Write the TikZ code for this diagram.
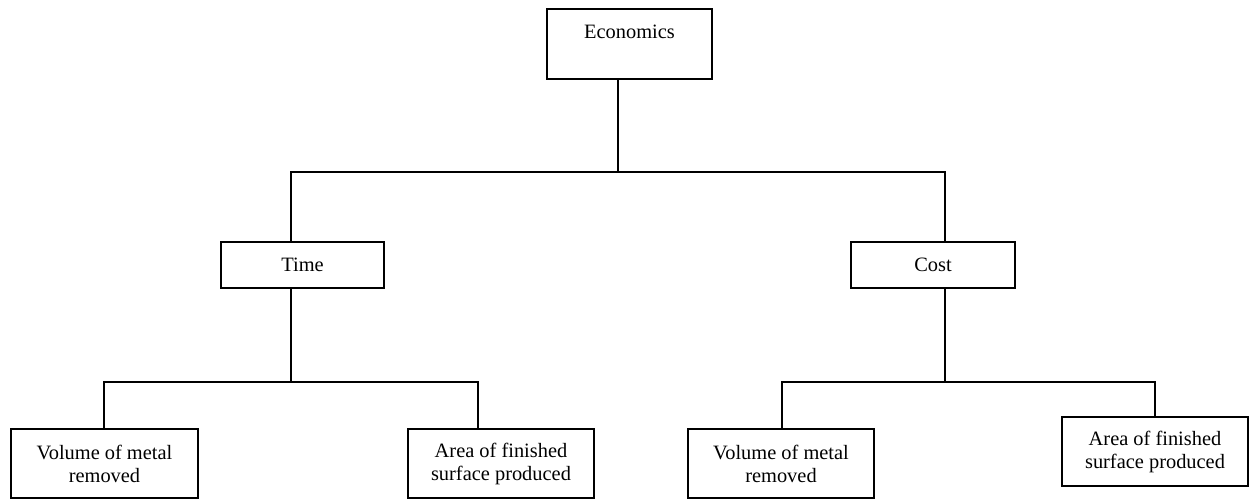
\documentclass[tikz,border=0pt]{standalone}
\usepackage{fontspec}
\setmainfont{Liberation Serif}
\usetikzlibrary{calc}

\begin{document}
\begin{tikzpicture}[x=1pt, y=-1pt, line width=1.6pt,
  box/.style={draw, inner sep=0pt, align=center, font=\fontsize{20.4pt}{23pt}\selectfont},
  smallbox/.style={box, minimum width=163pt, minimum height=46pt},
  leafbox/.style={box, minimum width=186pt, minimum height=69pt}]

\useasboundingbox (0, 0) rectangle (1255, 500);

% Define boxes
\node[box, anchor=north, minimum width=165pt, text height=30pt, text depth=40pt] (econ) at (629.5, 8) {Economics};
\node[smallbox] (time) at (302.5, 265) {Time};
\node[smallbox, minimum width=164pt] (cost) at (933, 265) {Cost};
\node[leafbox, minimum width=187pt] (volL) at (104.5, 463.5) {Volume of metal\\removed};
\node[leafbox] (areaL) at (501, 463.5) {Area of finished\\surface produced};
\node[leafbox] (volR) at (781, 463.5) {Volume of metal\\removed};
\node[leafbox] (areaR) at (1155, 451.5) {Area of finished\\surface produced};

% Define bus points
\coordinate (busTop) at (618, 172);
\coordinate (busTopL) at (291, 172);
\coordinate (busTopR) at (945, 172);
\coordinate (busTime) at (291, 382);
\coordinate (busTimeL) at (104, 382);
\coordinate (busTimeR) at (478, 382);
\coordinate (busCost) at (945, 382);
\coordinate (busCostL) at (782, 382);
\coordinate (busCostR) at (1155, 382);

% Economics to Time and Cost
\draw (econ.south -| busTop) -- (busTop);
\draw (time.north -| busTopL) -- (busTopL) -- (busTopR) -- (cost.north -| busTopR);

% Time to its leaves
\draw (time.south -| busTime) -- (busTime);
\draw (volL.north -| busTimeL) -- (busTimeL) -- (busTimeR) -- (areaL.north -| busTimeR);

% Cost to its leaves
\draw (cost.south -| busCost) -- (busCost);
\draw (volR.north -| busCostL) -- (busCostL) -- (busCostR) -- (areaR.north -| busCostR);

\end{tikzpicture}
\end{document}
